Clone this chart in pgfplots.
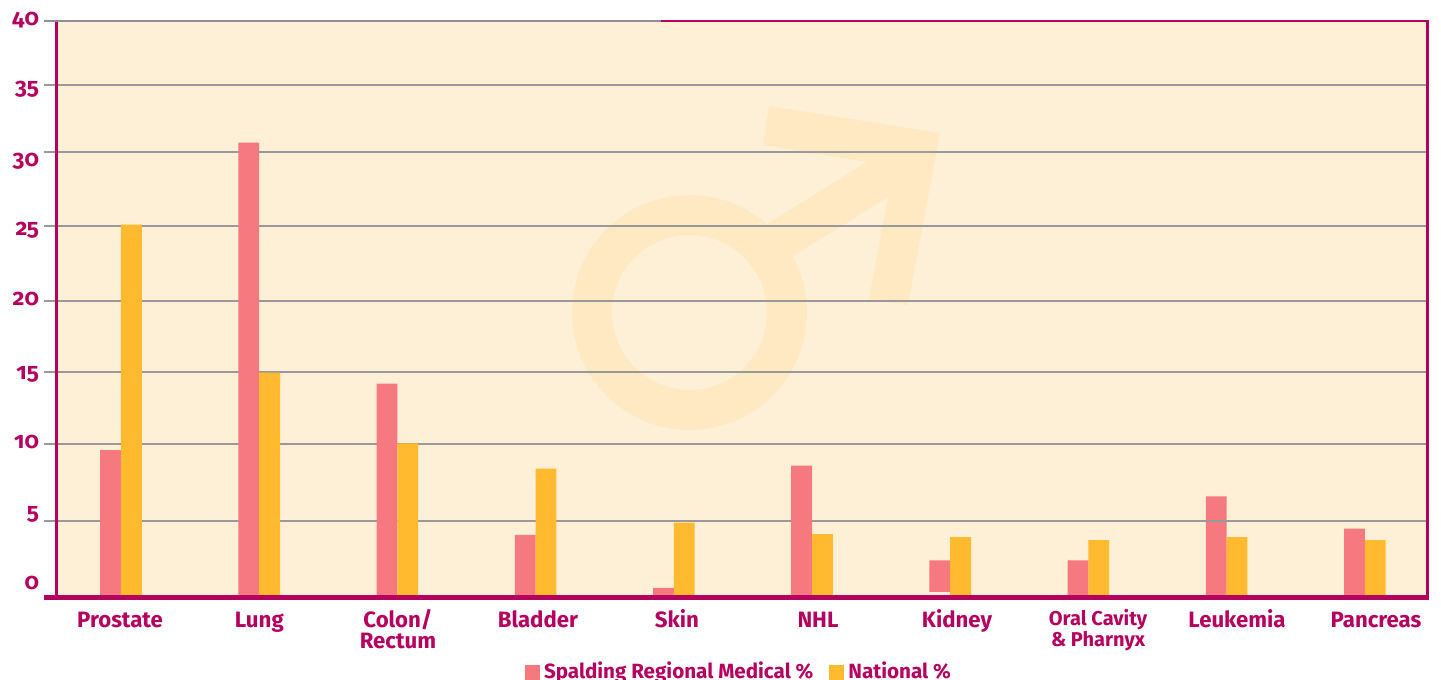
\documentclass[border=0pt]{standalone}
\usepackage{fontspec}
\setmainfont{Fira Sans}[Numbers=OldStyle]
\usepackage{pgfplots}
\pgfplotsset{compat=1.18}
\definecolor{mag}{HTML}{B5005F}
\definecolor{cream}{HTML}{FEF0D6}
\definecolor{wm}{HTML}{FEE9C3}
\definecolor{pinkb}{HTML}{F6797F}
\definecolor{orab}{HTML}{FFBA2F}
\definecolor{gridg}{HTML}{999999}
\definecolor{topg}{HTML}{968A96}
\newcommand\twol[2]{\vtop{\baselineskip=10.5pt\halign{\hfil##\hfil\cr #1\cr #2\cr}}}
\begin{document}
\begin{tikzpicture}
\path[use as bounding box] (0,0) rectangle (720.5pt,340pt);
\begin{scope}[x=0.5pt,y=-0.5pt,yshift=340pt]
\fill[cream] (56,21) rectangle (1428,598);
\fill[wm,even odd rule] (689.5,312.5) circle (117.5) (689.5,312.5) circle (77.5);
\fill[wm] (769,106)--(940,133)--(908,305)--(869,299)--(888,197)--(793,256)--(767,224)--(867,162)--(763,145)--cycle;
\end{scope}
\begin{axis}[
  at={(28pt,41pt)}, anchor=south west,
  scale only axis, width=686pt, height=288.5pt,
  xmin=-0.4703, xmax=9.457, ymin=0, ymax=40,
  y coord trafo/.code={\pgfmathparse{77*min(max(#1/5,0),1)+77*min(max((#1-5)/5,0),1)+72*min(max((#1-10)/5,0),1)+71*min(max((#1-15)/5,0),1)+75*min(max((#1-20)/5,0),1)+74*min(max((#1-25)/5,0),1)+67*min(max((#1-30)/5,0),1)+64*min(max((#1-35)/5,0),1)}},
  axis line style={draw=none},
  ytick={0,5,10,15,20,25,30,35,40},
  yticklabels={\raisebox{4pt}{0},\raisebox{.5pt}{5},\raisebox{-2.5pt}{10},\raisebox{-4pt}{15},\raisebox{-2.5pt}{20},\raisebox{-5pt}{25},\raisebox{-7.5pt}{30},\raisebox{-5pt}{35},\raisebox{-2.5pt}{40}},
  xtick={-0.007,1.001,2.004,3.017,4.023,5.043,6.049,7.07,8.075,9.081},
  xticklabels={Prostate,Lung,{\twol{Colon/}{Rectum}},Bladder,Skin,NHL,Kidney,{\raisebox{1pt}{\fontsize{10}{10.5}\selectfont\twol{Oral Cavity}{\& Pharnyx}}},Leukemia,Pancreas},
  x tick label style={anchor=base,font=\fontsize{11.1}{10.5}\selectfont\bfseries,text=mag,yshift=-9pt},
  y tick label style={anchor=base east,font=\fontsize{11.5}{11.5}\selectfont\bfseries,text=mag,xshift=1pt},
  /pgf/number format/assume math mode=true,
  major tick length=6pt,
  tick align=outside,
  xtick style={draw=none},
  ytick style={draw=gridg,line width=1.3pt},
  tick pos=left,
  ymajorgrids, grid style={draw=gridg,line width=1.3pt},
  legend style={at={(0.4985,-0.0965)},anchor=north,draw=none,fill=none,font=\fontsize{10.3}{10.3}\selectfont\bfseries,text=mag,legend columns=-1,/tikz/every even column/.append style={column sep=6pt}},
  legend image code/.code={\fill[#1] (0pt,-4.5pt) rectangle (7.5pt,3.5pt);},
]
\addplot[ybar,bar width=10.4pt,bar shift=-5.2pt,fill=pinkb,draw=none] coordinates {
(0,9.6)(1,30.7)(2,14.2)(3,4.1)(4,0.65)(5,8.6)(6,2.45)(7,2.45)(8,6.6)(9,4.5)};
\addlegendentry{Spalding Regional Medical \%}
\addplot[ybar,bar width=10.4pt,bar shift=5.2pt,fill=orab,draw=none] coordinates {
(0,25.1)(1,14.95)(2,10.05)(3,8.4)(4,4.9)(5,4.15)(6,3.95)(7,3.75)(8,3.95)(9,3.75)};
\addlegendentry{National \%}
\addplot[ybar,bar width=10.4pt,bar shift=-5.2pt,fill=cream,draw=none,forget plot] coordinates {(6,0.4)};
\end{axis}
\begin{scope}[x=0.5pt,y=-0.5pt,yshift=340pt]
\draw[gridg,line width=1.3pt] (1206,521)--(1227,521);
\draw[mag,line width=1.5pt] (56.5,21)--(56.5,598);
\draw[mag,line width=1.5pt] (1427.5,21)--(1427.5,598);
\draw[topg,line width=1.25pt] (44,21)--(661,21);
\draw[mag,line width=1.25pt] (661,21)--(1428.5,21);
\draw[mag,line width=2.5pt] (44,598)--(1429,598);
\end{scope}
\end{tikzpicture}
\end{document}
